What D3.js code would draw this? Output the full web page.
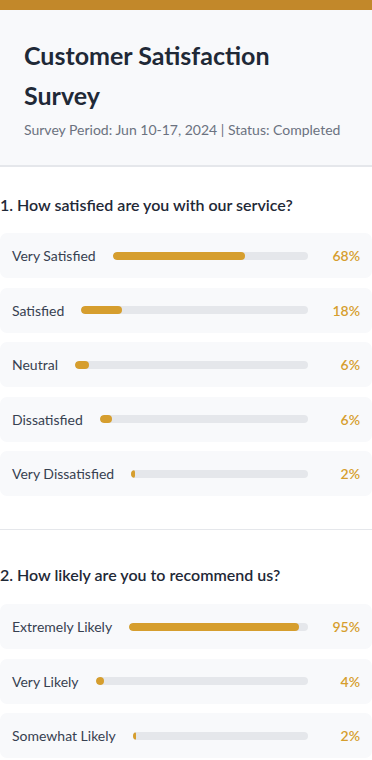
<!DOCTYPE html>
<html>
<head>
<meta charset="utf-8">
<script src="https://cdn.jsdelivr.net/npm/d3@7"></script>
<style>
  * { box-sizing: border-box; }
  body { margin: 0; background: #fff; font-family: Lato, "Noto Sans", sans-serif; color: #1f2937; width: 372px; overflow: hidden; }
  .topbar { height: 10px; background: #c2882a; }
  .header { background: #f8f9fb; padding: 25px 24px 0 24px; height: 157px; border-bottom: 2px solid #e5e7eb; }
  .header h1 { margin: 0; width: 300px; font-size: 25px; line-height: 40px; font-weight: 700; color: #1f2937; }
  .header .sub { margin-top: 6px; font-size: 14px; line-height: 17px; color: #6b7280; }
  .section h2 { margin: 0; font-size: 16px; line-height: 20px; font-weight: 600; color: #1f2937; }
  .row { display: flex; align-items: center; height: 45px; margin-bottom: 9.5px; background: #f8f9fb; border-radius: 7px; padding: 0 12px; }
  .row:last-child { margin-bottom: 0; }
  .label { font-size: 14px; color: #374151; white-space: nowrap; margin-right: 17px; }
  .track { flex: 1; height: 8px; background: #e5e7eb; border-radius: 4px; overflow: hidden; }
  .fill { height: 100%; background: #d69e2e; border-radius: 4px; }
  .pct { min-width: 40px; margin-left: 12px; text-align: right; font-size: 14px; font-weight: 600; color: #d69e2e; }
  .sep { height: 1px; background: #e5e7eb; }
</style>
</head>
<body>
<div class="topbar"></div>
<div class="header">
  <h1>Customer Satisfaction Survey</h1>
  <div class="sub">Survey Period: Jun 10-17, 2024 | Status: Completed</div>
</div>
<div id="chart"></div>
<script>
// Question 1 data
var q1Title = "1. How satisfied are you with our service?";
var q1Labels = ["Very Satisfied", "Satisfied", "Neutral", "Dissatisfied", "Very Dissatisfied"];
var q1Values = [68, 18, 6, 6, 2];

// Question 2 data
var q2Title = "2. How likely are you to recommend us?";
var q2Labels = ["Extremely Likely", "Very Likely", "Somewhat Likely"];
var q2Values = [95, 4, 2];

// scale maps a percent answer to a share of the track width
var xScale = d3.scaleLinear().domain([0, 100]).range([0, 100]);

var chart = d3.select("#chart");

function drawQuestion(title, labels, values, top, gap) {
  var section = chart.append("div")
    .attr("class", "section")
    .style("padding-top", top + "px");

  section.append("h2")
    .style("margin-bottom", gap + "px")
    .text(title);

  var rows = section.selectAll(".row")
    .data(labels.map((l, i) => ({ label: l, value: values[i] })))
    .enter()
    .append("div")
    .attr("class", "row");

  rows.append("div").attr("class", "label").text(d => d.label);

  rows.append("div").attr("class", "track")
    .append("div").attr("class", "fill")
    .style("width", d => xScale(d.value) + "%");

  rows.append("div").attr("class", "pct").text(d => d.value + "%");
  return section;
}

drawQuestion(q1Title, q1Labels, q1Values, 28, 18);
chart.append("div").attr("class", "sep").style("margin-top", "33px");
drawQuestion(q2Title, q2Labels, q2Values, 35, 19);
</script>
</body>
</html>
